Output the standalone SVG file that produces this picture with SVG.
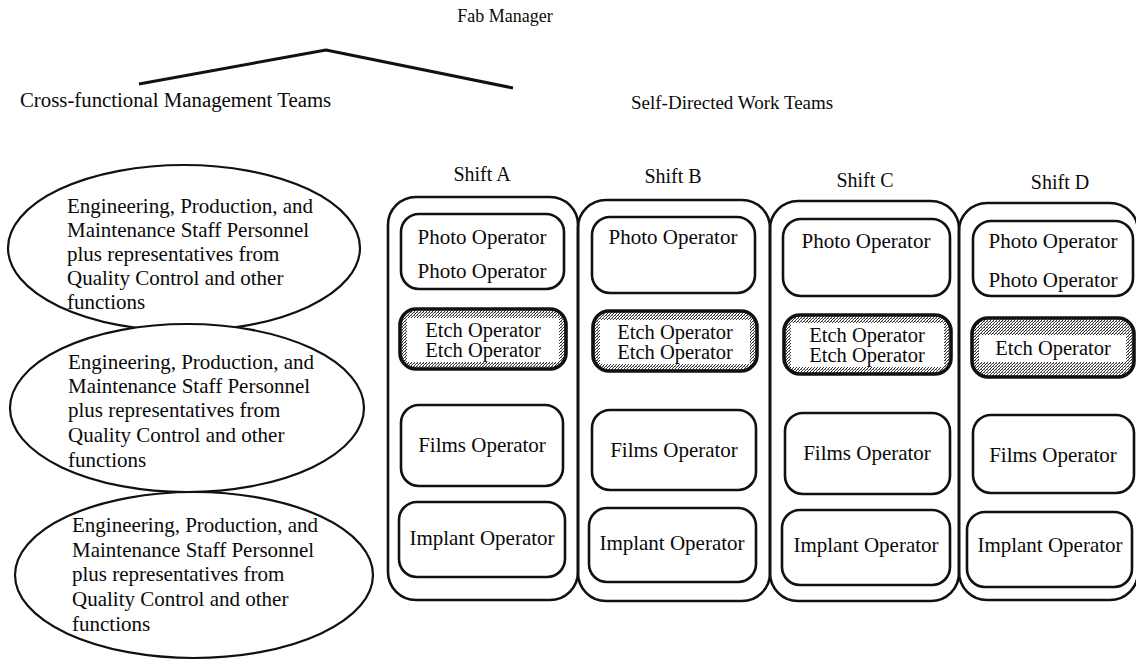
<svg xmlns="http://www.w3.org/2000/svg" width="1136" height="662" viewBox="0 0 1136 662">
  <defs>
    <!-- fine diagonal dither used inside the etch boxes -->
    <pattern id="dither" width="3" height="3" patternUnits="userSpaceOnUse">
      <rect width="3" height="3" fill="#ffffff"/>
      <rect x="0" y="2" width="1" height="1" fill="#333"/>
      <rect x="1" y="1" width="1" height="1" fill="#333"/>
      <rect x="2" y="0" width="1" height="1" fill="#333"/>
      <rect x="0" y="0" width="1" height="1" fill="#888"/>
    </pattern>
    <style>
      text { font-family: "Liberation Serif", "Times New Roman", serif; fill: #0a0a0a; }
      .hdr { font-size: 19px; }
      .op { font-size: 21px; text-anchor: middle; }
      .etx { font-size: 20.5px; text-anchor: middle; }
      .ell { font-size: 21px; }
      .shift { fill: none; stroke: #111; stroke-width: 2.6; }
      .box { fill: #fff; stroke: #111; stroke-width: 2.6; }
      .etch { fill: url(#dither); stroke: #111; stroke-width: 3.6; }
      .hole { fill: #fff; }
      .team { fill: #fff; stroke: #111; stroke-width: 2.2; }
      .link { fill: none; stroke: #111; stroke-width: 3; stroke-linejoin: round; }
    </style>
  </defs>
  <rect width="1136" height="662" fill="#fff"/>

  <!-- top of the hierarchy -->
  <g id="fab-manager">
    <text class="hdr" x="505" y="22" text-anchor="middle" style="font-size:18px">Fab Manager</text>
  </g>
  <g id="connectors">
    <polyline class="link" points="139,84 326,50 513,88"/>
  </g>
  <g id="cross-functional-label">
    <text class="hdr" x="20" y="107" style="font-size:20.8px">Cross-functional Management Teams</text>
  </g>
  <g id="self-directed-label">
    <text class="hdr" x="631" y="109">Self-Directed Work Teams</text>
  </g>

  <!-- cross-functional management teams -->
  <g id="team-1">
    <ellipse class="team" cx="184" cy="248" rx="176" ry="83"/>
    <text class="ell" x="67" y="213">Engineering, Production, and</text>
    <text class="ell" x="67" y="237">Maintenance Staff Personnel</text>
    <text class="ell" x="67" y="261">plus representatives from</text>
    <text class="ell" x="67" y="285">Quality Control and other</text>
    <text class="ell" x="67" y="309">functions</text>
  </g>
  <g id="team-2">
    <ellipse class="team" cx="187" cy="408" rx="177" ry="84"/>
    <text class="ell" x="68" y="369">Engineering, Production, and</text>
    <text class="ell" x="68" y="393">Maintenance Staff Personnel</text>
    <text class="ell" x="68" y="417">plus representatives from</text>
    <text class="ell" x="68" y="442">Quality Control and other</text>
    <text class="ell" x="68" y="467">functions</text>
  </g>
  <g id="team-3">
    <ellipse class="team" cx="194" cy="575" rx="179" ry="83"/>
    <text class="ell" x="72" y="532">Engineering, Production, and</text>
    <text class="ell" x="72" y="557">Maintenance Staff Personnel</text>
    <text class="ell" x="72" y="581">plus representatives from</text>
    <text class="ell" x="72" y="606">Quality Control and other</text>
    <text class="ell" x="72" y="631">functions</text>
  </g>

  <!-- Shift A -->
  <g id="shift-a">
    <text class="op" x="482" y="181" style="font-size:20px">Shift A</text>
    <rect class="shift" x="388" y="197" width="190" height="403" rx="28"/>
    <rect class="box" x="401" y="214" width="163" height="75" rx="18"/>
    <text class="op" x="482" y="244">Photo Operator</text>
    <text class="op" x="482" y="278">Photo Operator</text>
    <rect class="etch" x="400" y="309" width="166" height="60" rx="16"/>
    <rect class="hole" x="407" y="318" width="152" height="44"/>
    <text class="etx" x="483" y="337">Etch Operator</text>
    <text class="etx" x="483" y="357">Etch Operator</text>
    <rect class="box" x="401" y="405" width="162" height="81" rx="18"/>
    <text class="op" x="482" y="452">Films Operator</text>
    <rect class="box" x="399" y="502" width="166" height="75" rx="18"/>
    <text class="op" x="482" y="545">Implant Operator</text>
  </g>

  <!-- Shift B -->
  <g id="shift-b">
    <text class="op" x="673" y="183" style="font-size:20px">Shift B</text>
    <rect class="shift" x="578" y="200" width="192" height="401" rx="28"/>
    <rect class="box" x="592" y="217" width="163" height="76" rx="18"/>
    <text class="op" x="673" y="244">Photo Operator</text>
    <rect class="etch" x="593" y="311" width="164" height="60" rx="16"/>
    <rect class="hole" x="600" y="320" width="150" height="44"/>
    <text class="etx" x="675" y="339">Etch Operator</text>
    <text class="etx" x="675" y="359">Etch Operator</text>
    <rect class="box" x="592" y="410" width="164" height="80" rx="18"/>
    <text class="op" x="674" y="457">Films Operator</text>
    <rect class="box" x="589" y="508" width="167" height="74" rx="18"/>
    <text class="op" x="672" y="550">Implant Operator</text>
  </g>

  <!-- Shift C -->
  <g id="shift-c">
    <text class="op" x="865" y="187" style="font-size:20px">Shift C</text>
    <rect class="shift" x="770" y="201" width="189" height="400" rx="28"/>
    <rect class="box" x="783" y="219" width="167" height="77" rx="18"/>
    <text class="op" x="866" y="248">Photo Operator</text>
    <rect class="etch" x="784" y="315" width="167" height="59" rx="16"/>
    <rect class="hole" x="791" y="323" width="153" height="44"/>
    <text class="etx" x="867" y="342">Etch Operator</text>
    <text class="etx" x="867" y="362">Etch Operator</text>
    <rect class="box" x="785" y="413" width="165" height="81" rx="18"/>
    <text class="op" x="867" y="460">Films Operator</text>
    <rect class="box" x="782" y="510" width="168" height="75" rx="18"/>
    <text class="op" x="866" y="552">Implant Operator</text>
  </g>

  <!-- Shift D -->
  <g id="shift-d">
    <text class="op" x="1060" y="189" style="font-size:20px">Shift D</text>
    <rect class="shift" x="959" y="203" width="179" height="397" rx="28"/>
    <rect class="box" x="973" y="221" width="160" height="75" rx="18"/>
    <text class="op" x="1053" y="248">Photo Operator</text>
    <text class="op" x="1053" y="287">Photo Operator</text>
    <rect class="etch" x="972" y="318" width="162" height="59" rx="16"/>
    <rect class="hole" x="979" y="335" width="147" height="27"/>
    <text class="etx" x="1053" y="355">Etch Operator</text>
    <rect class="box" x="973" y="415" width="161" height="78" rx="18"/>
    <text class="op" x="1053" y="462">Films Operator</text>
    <rect class="box" x="967" y="512" width="165" height="75" rx="18"/>
    <text class="op" x="1050" y="552">Implant Operator</text>
  </g>
</svg>
